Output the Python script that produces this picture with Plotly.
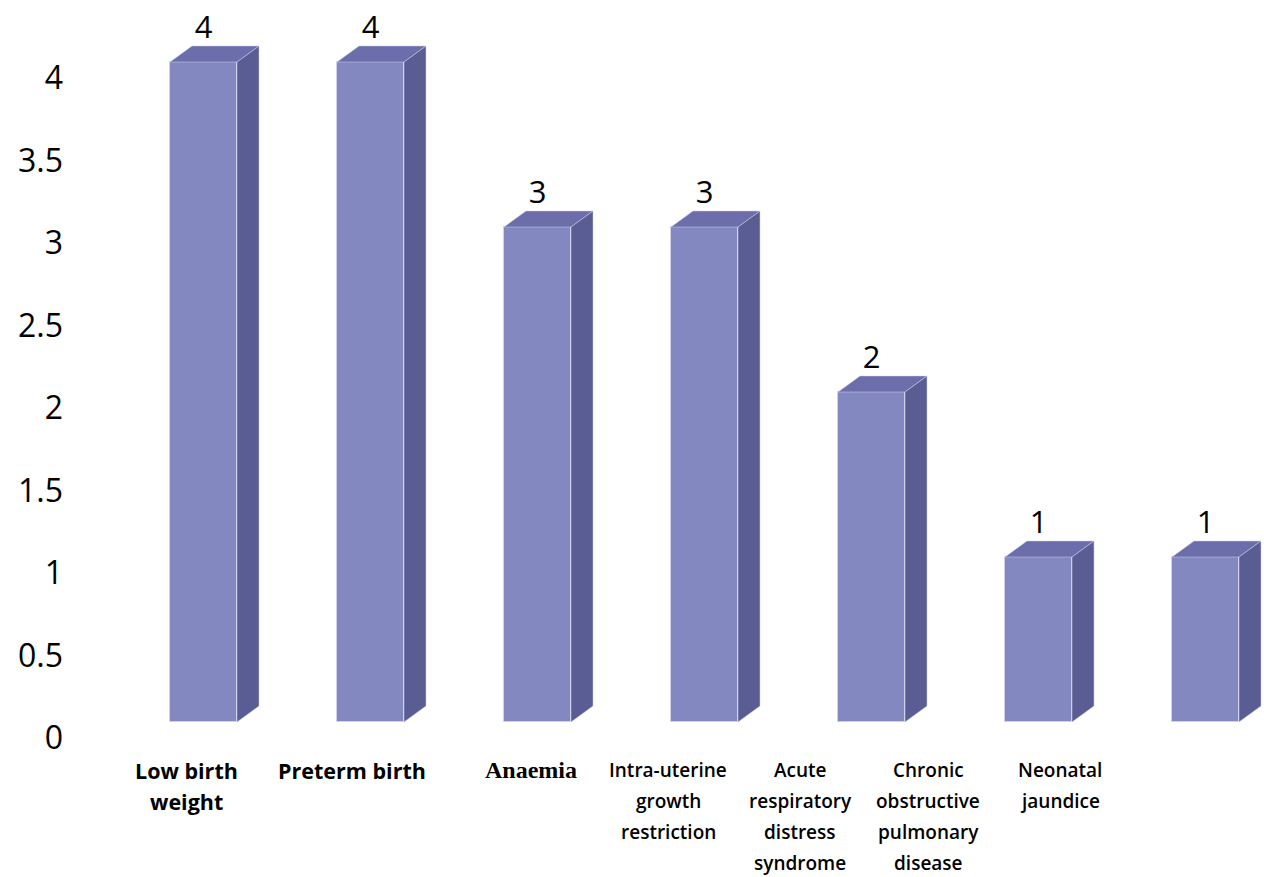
import plotly.graph_objects as go

categories = [
    "Low birth weight",
    "Preterm birth",
    "Anaemia",
    "Intra-uterine growth restriction",
    "Acute respiratory distress syndrome",
    "Chronic obstructive pulmonary disease",
    "Neonatal jaundice",
]
label_lines = [
    ["Low birth", "weight"],
    ["Preterm birth"],
    ["Anaemia"],
    ["Intra-uterine", "growth", "restriction"],
    ["Acute", "respiratory", "distress", "syndrome"],
    ["Chronic", "obstructive", "pulmonary", "disease"],
    ["Neonatal", "jaundice"],
]
values = [4, 4, 3, 3, 2, 1, 1]
y_ticks = [0, 0.5, 1, 1.5, 2, 2.5, 3, 3.5, 4]
y_tick_text = ["0", "0.5", "1", "1.5", "2", "2.5", "3", "3.5", "4"]

# styling / geometry
FRONT = "#8389C0"
TOP = "#6B6EAA"
SIDE = "#5A5D94"
EDGE = "#CFD1EA"
W = 67 / 167          # bar width in category units
DX = 22 / 167         # 3D depth (x)
DY = 16 / 165         # 3D depth (y)
label_xshift = [-17.5, -18.5, -6.5, -36.5, -71.5, -110.5, -145.5]
label_fonts = [
    dict(family="Open Sans", size=21.5, color="#000000", weight="bold"),
    dict(family="Open Sans", size=21.5, color="#000000", weight="bold"),
    dict(family="Liberation Serif", size=24, color="#000000", weight="bold"),
    dict(family="Open Sans", size=19, color="#000000", weight=600),
    dict(family="Open Sans", size=19, color="#000000", weight=600),
    dict(family="Open Sans", size=19, color="#000000", weight=600),
    dict(family="Open Sans", size=19, color="#000000", weight=600),
]

L, R = 70, 1264
B_PIX, Y0_PIX, PX_UNIT = 745, 722, 165
X0_PIX, X_STEP = 203.5, 167

idx = list(range(len(values)))

fig = go.Figure()
fig.add_trace(go.Bar(
    x=idx, y=values, width=W,
    marker=dict(color=FRONT, line=dict(color=EDGE, width=1)),
    hoverinfo="skip", showlegend=False,
))

top_x, top_y, side_x, side_y = [], [], [], []
for i, v in zip(idx, values):
    xl, xr = i - W / 2, i + W / 2
    top_x += [xl, xl + DX, xr + DX, xr, xl, None]
    top_y += [v, v + DY, v + DY, v, v, None]
    side_x += [xr, xr, xr + DX, xr + DX, xr, None]
    side_y += [0, v, v + DY, DY, 0, None]

fig.add_trace(go.Scatter(x=top_x, y=top_y, fill="toself", fillcolor=TOP,
                         mode="lines", line=dict(color=EDGE, width=0.5),
                         hoverinfo="skip", showlegend=False))
fig.add_trace(go.Scatter(x=side_x, y=side_y, fill="toself", fillcolor=SIDE,
                         mode="lines", line=dict(color=EDGE, width=0.5),
                         hoverinfo="skip", showlegend=False))
fig.add_trace(go.Scatter(
    x=idx, y=[v + DY for v in values], mode="text",
    text=[str(v) for v in values], textposition="top center",
    textfont=dict(family="Open Sans", size=31, color="#000000"),
    hoverinfo="skip", showlegend=False,
))

for i, lines in enumerate(label_lines):
    for k, line in enumerate(lines):
        fig.add_annotation(
            x=i, xref="x", y=0, yref="paper",
            text=line, showarrow=False,
            xanchor="center", yanchor="middle",
            xshift=label_xshift[i], yshift=-(770 + 31 * k - B_PIX),
            font=label_fonts[i],
        )

fig.update_layout(
    width=1264, height=877,
    margin=dict(l=L, r=1264 - R, t=0, b=877 - B_PIX),
    paper_bgcolor="white", plot_bgcolor="white",
    bargap=0,
    xaxis=dict(range=[(L - X0_PIX) / X_STEP, (R - X0_PIX) / X_STEP],
               showgrid=False, zeroline=False, showline=False,
               showticklabels=False, ticks=""),
    yaxis=dict(range=[-(B_PIX - Y0_PIX) / PX_UNIT, Y0_PIX / PX_UNIT],
               tickvals=y_ticks, ticktext=y_tick_text,
               showgrid=False, zeroline=False, showline=False, ticks="",
               ticklabelshift=16, ticklabelstandoff=6,
               tickfont=dict(family="Open Sans", size=32, color="#000000")),
)

fig.write_html("out.html")
